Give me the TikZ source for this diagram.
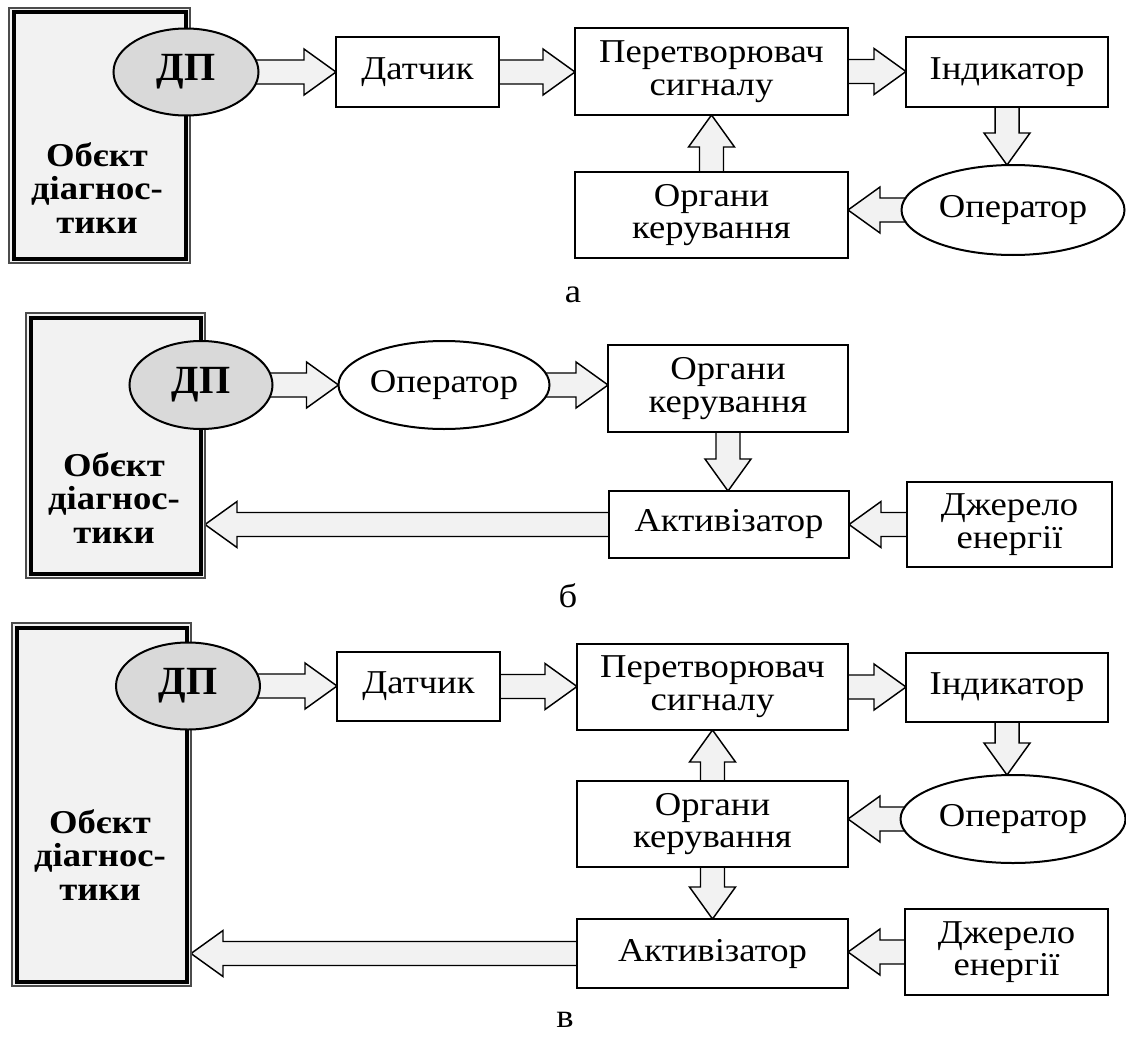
\documentclass[tikz,border=0pt]{standalone}
\usepackage{fontspec}
\setmainfont{Liberation Serif}
\newfontfamily\regfont{Liberation Serif}[FakeStretch=1.1]
\usetikzlibrary{calc,backgrounds,shapes.geometric}
\definecolor{lightf}{HTML}{F2F2F2}
\definecolor{dpf}{HTML}{D9D9D9}
\tikzset{
  x=0.75pt, y=-0.75pt,
  box/.style={draw, line width=1.5pt, fill=white, inner sep=0pt, outer sep=0pt, align=center, font=\regfont\fontsize{25}{24.5}\selectfont},
  oval/.style={ellipse, draw, line width=1.5pt, fill=white, inner sep=0pt, outer sep=0pt, font=\regfont\fontsize{25}{24.5}\selectfont},
  dpnode/.style={oval, fill=dpf, font=\fontsize{30}{30}\selectfont\bfseries},
  barrow/.style={draw, line width=1.1pt, fill=lightf, line join=miter},
  objtext/.style={align=center, font=\regfont\fontsize{25}{25}\selectfont\bfseries},
  objbox/.style={draw=black!70, line width=1pt, fill=lightf, inner sep=0pt, outer sep=0pt},
  caption/.style={font=\regfont\fontsize{25}{24.5}\selectfont},
}
\def\sw{9pt}\def\hw{17.25pt}\def\hl{24pt}
\newcommand\barr[2]{%
  \draw[barrow] let \p1=(#1), \p2=(#2), \n1={veclen(\x2-\x1,\y2-\y1)},
    \n2={(\x2-\x1)/\n1}, \n3={(\y2-\y1)/\n1} in
    (\x1-\n3*\sw,\y1+\n2*\sw) -- (\x2-\n2*\hl-\n3*\sw,\y2-\n3*\hl+\n2*\sw)
    -- (\x2-\n2*\hl-\n3*\hw,\y2-\n3*\hl+\n2*\hw) -- (\x2,\y2)
    -- (\x2-\n2*\hl+\n3*\hw,\y2-\n3*\hl-\n2*\hw)
    -- (\x2-\n2*\hl+\n3*\sw,\y2-\n3*\hl-\n2*\sw)
    -- (\x1+\n3*\sw,\y1-\n2*\sw) -- cycle;}
\newcommand\bx[6]{\node[box, minimum width={(#4-#2)*0.75pt}, minimum height={(#5-#3)*0.75pt}] (#1) at ({(#2+#4)/2},{(#3+#5)/2}) {#6};}
\newcommand\ovt[7][oval]{\node[#1, minimum width={#5*0.75pt}, minimum height={#6*0.75pt}] (#2) at (#3,#4) {#7};}
\newcommand\obj[5]{%
  \node[objbox, minimum width={(#4-#2)*0.75pt}, minimum height={(#5-#3)*0.75pt}] (#1) at ({(#2+#4)/2},{(#3+#5)/2}) {};
  \draw[line width=3pt] ([shift={(4.5,-4.5)}]#1.south west) rectangle ([shift={(-4.5,4.5)}]#1.north east);}
\begin{document}
\begin{tikzpicture}
\useasboundingbox (0,0) rectangle (1126,1038);
% ---------- panel a ----------
\obj{objA}{9}{8}{190}{263}
\node[objtext] (tA) at (97,188) {Обєкт\\діагнос-\\тики};
\ovt[dpnode]{dpA}{186}{72}{145}{87}{ДП}
\bx{datA}{336}{37}{499}{107}{Датчик}
\bx{perA}{575}{28}{848}{115}{Перетворювач\\сигналу}
\bx{indA}{906}{37}{1108}{107}{Індикатор}
\ovt{opA}{1013}{210}{223}{90}{Оператор}
\bx{orgA}{575}{172}{848}{258}{Органи\\керування}
\node[caption] (capA) at (573,295) {а};
% ---------- panel b ----------
\obj{objB}{26}{313}{205}{578}
\node[objtext] (tB) at (114,498) {Обєкт\\діагнос-\\тики};
\ovt[dpnode]{dpB}{201}{385}{143}{88}{ДП}
\ovt{opB}{444}{385}{211}{88}{Оператор}
\bx{orgB}{608}{345}{848}{432}{Органи\\керування}
\bx{actB}{609}{491}{849}{558}{Активізатор}
\bx{dzB}{907}{482}{1112}{567}{Джерело\\енергії}
\node[caption] (capB) at (568,596) {б};
% ---------- panel c ----------
\obj{objC}{12}{623}{191}{986}
\node[objtext] (tC) at (100,855) {Обєкт\\діагнос-\\тики};
\ovt[dpnode]{dpC}{188}{686}{144}{87}{ДП}
\bx{datC}{337}{652}{500}{721}{Датчик}
\bx{perC}{577}{644}{848}{730}{Перетворювач\\сигналу}
\bx{indC}{906}{653}{1108}{722}{Індикатор}
\ovt{opC}{1013}{819}{225}{88}{Оператор}
\bx{orgC}{577}{781}{848}{867}{Органи\\керування}
\bx{actC}{577}{919}{848}{988}{Активізатор}
\bx{dzC}{905}{909}{1108}{995}{Джерело\\енергії}
\node[caption] (capC) at (565,1020) {в};
% ---------- arrows ----------
\begin{pgfonlayer}{background}
\barr{[xshift=-15pt]dpA.east}{datA.west}
\barr{datA.east}{datA.east -| perA.west}
\barr{perA.east}{perA.east -| indA.west}
\barr{indA.south}{indA.south |- opA.north}
\barr{[xshift=12pt]opA.west}{opA.west -| orgA.east}
\barr{orgA.north}{perA.south}
%
\barr{[xshift=-15pt]dpB.east}{opB.west}
\barr{[xshift=-12pt]opB.east}{opB.east -| orgB.west}
\barr{orgB.south}{orgB.south |- actB.north}
\barr{dzB.west}{dzB.west -| actB.east}
\barr{actB.west}{actB.west -| objB.east}
%
\barr{[xshift=-15pt]dpC.east}{dpC.east -| datC.west}
\barr{datC.east}{datC.east -| perC.west}
\barr{perC.east}{perC.east -| indC.west}
\barr{indC.south}{indC.south |- opC.north}
\barr{[xshift=12pt]opC.west}{opC.west -| orgC.east}
\barr{orgC.north}{perC.south}
\barr{orgC.south}{actC.north}
\barr{dzC.west}{dzC.west -| actC.east}
\barr{actC.west}{actC.west -| objC.east}
\end{pgfonlayer}
\end{tikzpicture}
\end{document}
